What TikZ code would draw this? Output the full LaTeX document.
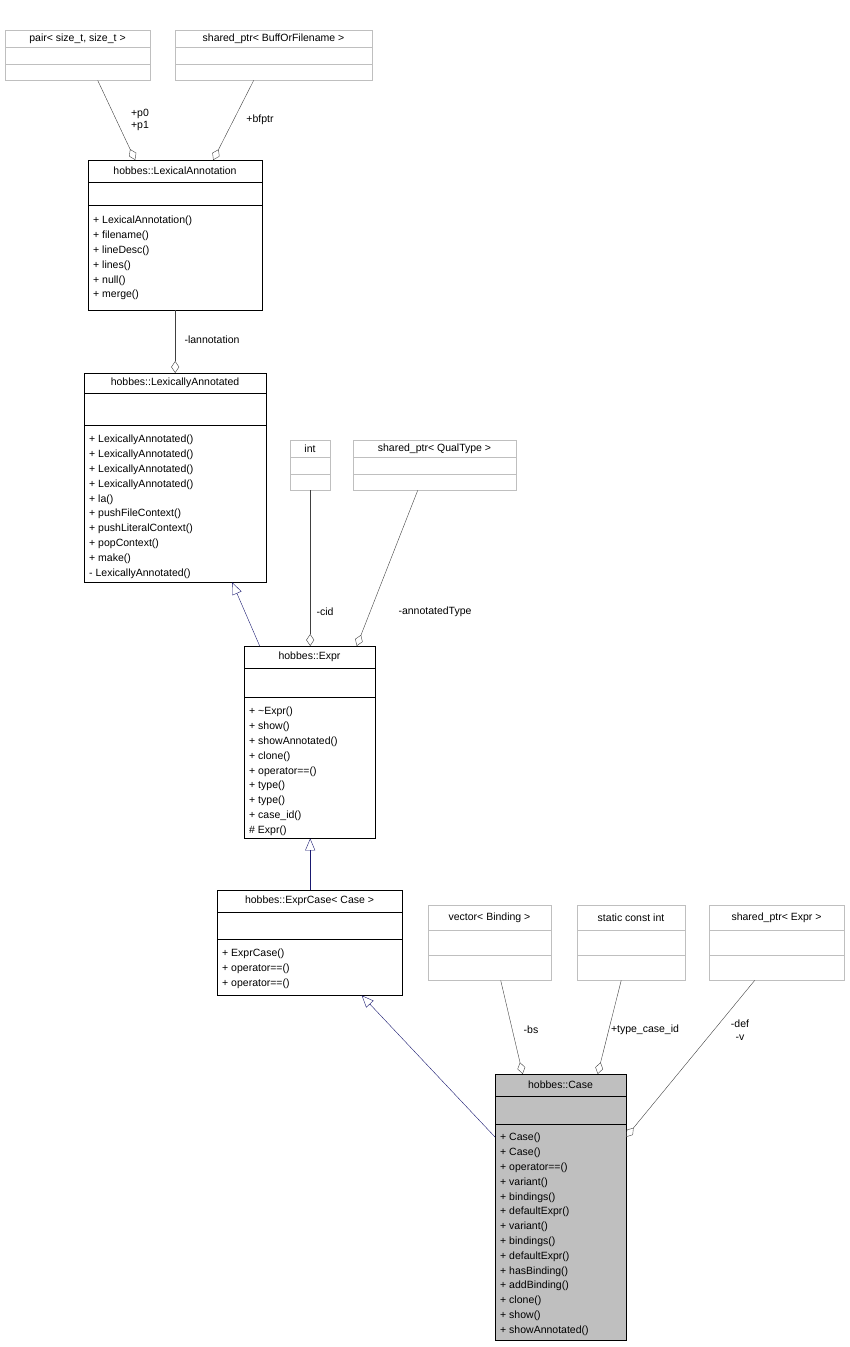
\documentclass[tikz,border=0pt]{standalone}
\usepackage{fontspec}
\setmainfont{Liberation Sans}
\usetikzlibrary{arrows.meta, positioning}
\definecolor{edgegray}{RGB}{191,191,191}
\definecolor{casefill}{RGB}{191,191,191}
\definecolor{inherit}{RGB}{25,25,112}
\tikzset{
  cls/.style={draw=black, rectangle, inner sep=0pt},
  clsgray/.style={cls, fill=casefill},
  ext/.style={draw=edgegray, rectangle, inner sep=0pt},
  ttl/.style={font=\fontsize{10.5}{12}\selectfont, inner sep=0pt},
  body/.style={font=\fontsize{10.5}{14.8}\selectfont, align=left, inner sep=0pt, anchor=north west},
  lbl/.style={font=\fontsize{10.5}{12.5}\selectfont, align=center, inner sep=1pt},
  agg/.style={draw=black!75, -{Diamond[open, length=12pt, width=8pt]}},
  isa/.style={draw=inherit, -{Triangle[open, length=12pt, width=10pt]}}
}
% name, x1, y1, x2, title bottom, section bottom, y2, title, style
\newcommand\umlclass[9]{%
  \node[#9, minimum width={(#4-#2)*1pt}, minimum height={(#7-#3)*1pt}, anchor=north west] (#1) at (#2,#3) {};
  \node[ttl] (#1-t) at ({(#2+#4)/2},{(#3+#5)/2}) {#8};
  \draw[#9] (#2,#5) -- (#4,#5);
  \draw[#9] (#2,#6) -- (#4,#6);
}
\begin{document}
\begin{tikzpicture}[x=1pt, y=-1pt]
\useasboundingbox (0,0) rectangle (849,1347);

% external types
\umlclass{pair}{5}{30}{150}{47}{64}{80}{pair< size\_t, size\_t >}{ext}
\umlclass{buff}{175}{30}{372}{47}{64}{80}{shared\_ptr< BuffOrFilename >}{ext}
\umlclass{int}{290}{440}{330}{457}{474}{490}{int}{ext}
\umlclass{qual}{353}{440}{516}{457}{474}{490}{shared\_ptr< QualType >}{ext}
\umlclass{binding}{428}{905}{551}{930}{955}{980}{vector< Binding >}{ext}
\umlclass{sci}{577}{905}{685}{930}{955}{980}{static const int}{ext}
\umlclass{sexpr}{709}{905}{844}{930}{955}{980}{shared\_ptr< Expr >}{ext}

% hobbes classes
\umlclass{lexann}{88}{160}{262}{182}{205}{310}{hobbes::LexicalAnnotation}{cls}
\node[body] at (93,216) {+ LexicalAnnotation()\\+ filename()\\+ lineDesc()\\+ lines()\\+ null()\\+ merge()};

\umlclass{lexly}{84}{373}{266}{393}{425}{582}{hobbes::LexicallyAnnotated}{cls}
\node[body] at (89,435) {+ LexicallyAnnotated()\\+ LexicallyAnnotated()\\+ LexicallyAnnotated()\\+ LexicallyAnnotated()\\+ la()\\+ pushFileContext()\\+ pushLiteralContext()\\+ popContext()\\+ make()\\- LexicallyAnnotated()};

\umlclass{expr}{244}{646}{375}{668}{697}{838}{hobbes::Expr}{cls}
\node[body] at (249,707) {+ \char`\~Expr()\\+ show()\\+ showAnnotated()\\+ clone()\\+ operator==()\\+ type()\\+ type()\\+ case\_id()\\\# Expr()};

\umlclass{exprcase}{217}{890}{402}{912}{939}{995}{hobbes::ExprCase< Case >}{cls}
\node[body] at (222,949) {+ ExprCase()\\+ operator==()\\+ operator==()};

\umlclass{case}{495}{1074}{626}{1096}{1124}{1340}{hobbes::Case}{clsgray}
\node[body] at (500,1133) {+ Case()\\+ Case()\\+ operator==()\\+ variant()\\+ bindings()\\+ defaultExpr()\\+ variant()\\+ bindings()\\+ defaultExpr()\\+ hasBinding()\\+ addBinding()\\+ clone()\\+ show()\\+ showAnnotated()};

% relations
\draw[agg] ([xshift=20pt]pair.south) -- ([xshift=-40pt]lexann.north);
\node[lbl] at (140,120) {+p0\\+p1};
\draw[agg] ([xshift=-20pt]buff.south) -- ([xshift=38pt]lexann.north);
\node[lbl] at (260,120) {+bfptr};
\draw[agg] (lexann.south) -- (lexann.south |- lexly.north);
\node[lbl] at (212,340) {-lannotation};
\draw[isa] ([xshift=-50pt]expr.north) -- ([xshift=57pt]lexly.south);
\draw[agg] (int.south) -- (int.south |- expr.north);
\node[lbl] at (325,612) {-cid};
\draw[agg] ([xshift=-17pt]qual.south) -- ([xshift=47pt]expr.north);
\node[lbl] at (435,612) {-annotatedType};
\draw[isa] (exprcase.north -| int.south) -- (expr.south -| int.south);
\draw[isa] (495,1137) -- ([xshift=52pt]exprcase.south);
\draw[agg] ([xshift=11pt]binding.south) -- ([xshift=-38pt]case.north);
\node[lbl] at (531,1030) {-bs};
\draw[agg] ([xshift=-10pt]sci.south) -- ([xshift=37pt]case.north);
\node[lbl] at (645,1030) {+type\_case\_id};
\draw[agg] ([xshift=-22pt]sexpr.south) -- (626,1137);
\node[lbl] at (740,1030) {-def\\-v};
\end{tikzpicture}
\end{document}
